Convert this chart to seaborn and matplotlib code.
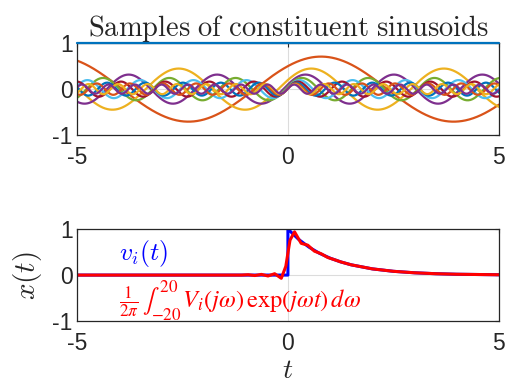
import numpy as np
import pandas as pd
import matplotlib
matplotlib.use("Agg")
import matplotlib.pyplot as plt
import seaborn as sns

# constituent sinusoids: frequency, amplitude, phase (rad)
freqs = [0, 1, 2, 3, 4, 5, 6, 7, 8, 9, 10]
amps = [1.0, 0.707, 0.447, 0.316, 0.243, 0.196, 0.164, 0.141, 0.124, 0.110, 0.0995]
phases = [0.0, -0.785, -1.107, -1.249, -1.326, -1.373, -1.406, -1.429, -1.446, -1.460, -1.471]

# bottom panel: v_i(t) and its band-limited reconstruction
t_v = [-5, 0, 0, 0.25, 0.5, 0.75, 1, 1.25, 1.5, 2, 2.5, 3, 3.5, 4, 5]
x_v = [0, 0, 1, 0.779, 0.607, 0.472, 0.368, 0.287, 0.223, 0.135, 0.082, 0.050, 0.030, 0.018, 0.007]
t_r = [-5, -1.1, -0.942, -0.785, -0.628, -0.471, -0.314, -0.157, -0.05, 0, 0.05, 0.157,
       0.314, 0.471, 0.628, 0.785, 0.942, 1.1, 1.25, 1.5, 2, 2.5, 3, 3.5, 4, 5]
x_r = [0, 0, 0.008, -0.01, 0.015, -0.02, 0.03, -0.07, 0.19, 0.48, 0.76, 0.94,
       0.69, 0.65, 0.52, 0.465, 0.383, 0.335, 0.287, 0.223, 0.135, 0.082, 0.050, 0.030, 0.018, 0.007]

matlab_colors = ["#0072BD", "#D95319", "#EDB120", "#7E2F8E", "#77AC30", "#4DBEEE", "#A2142F"]

sns.set_theme(style="white")
plt.rcParams["font.family"] = ["Liberation Sans", "DejaVu Sans"]
plt.rcParams["mathtext.fontset"] = "cm"
plt.rcParams["axes.unicode_minus"] = False

fig = plt.figure(figsize=(5.06, 3.85), dpi=100)
ax1 = fig.add_axes([0.152, 0.649, 0.834, 0.239])
ax2 = fig.add_axes([0.152, 0.166, 0.834, 0.239])

t = np.linspace(-5, 5, 1001)
rows = []
for k, (w, a, p) in enumerate(zip(freqs, amps, phases)):
    rows.append(pd.DataFrame({"t": t, "x": a * np.cos(w * t + p), "k": k}))
df = pd.concat(rows)
pal = [matlab_colors[k % 7] for k in range(len(freqs))]
sns.lineplot(data=df, x="t", y="x", hue="k", palette=pal, lw=1.6, legend=False,
             estimator=None, sort=False, ax=ax1)
ax1.lines[0].set_clip_on(False)
ax1.lines[0].set_zorder(5)

sns.lineplot(x=t_v, y=x_v, color="blue", lw=2.2, estimator=None, sort=False, ax=ax2)
sns.lineplot(x=t_r, y=x_r, color="red", lw=2.2, estimator=None, sort=False, ax=ax2)
ax2.text(-4.0, 0.47, r"$v_i(t)$", color="blue", fontsize=18.5, va="center")
ax2.text(-4.0, -0.55,
         r"$\frac{1}{2\pi}\,\int_{-20}^{20}\,V_i(j\omega)\,\exp(j\omega t)\,d\omega$",
         color="red", fontsize=17.6, va="center", math_fontfamily="stix")

ax1.set_title(r"$\mathrm{Samples\ of\ constituent\ sinusoids}$", fontsize=20.5, pad=5)
ax2.set_xlabel(r"$t$", fontsize=20, labelpad=2)
ax2.set_ylabel(r"$x(t)$", fontsize=21, labelpad=6)
ax1.set_xlabel("")
ax1.set_ylabel("")

for ax in (ax1, ax2):
    ax.set_xlim(-5, 5)
    ax.set_ylim(-1, 1)
    ax.set_xticks([-5, 0, 5])
    ax.set_yticks([-1, 0, 1])
    ax.grid(True, color="#dcdcdc", lw=0.8)
    ax.set_axisbelow(True)
    ax.tick_params(axis="x", pad=8)
    ax.tick_params(axis="y", pad=3)
    ax.tick_params(direction="in", length=3, width=0.8, labelsize=16.5,
                   top=True, right=True, colors="#262626")
    for s in ax.spines.values():
        s.set_color("#262626")
        s.set_linewidth(0.9)
        s.set_visible(True)

fig.savefig("out.png", dpi=100)
